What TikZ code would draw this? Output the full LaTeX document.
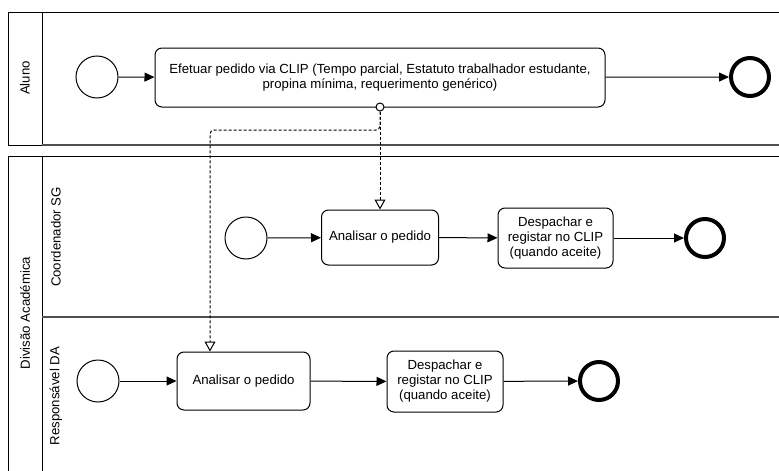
\documentclass[tikz,border=0pt]{standalone}
\usepackage{fontspec}
\setmainfont{Liberation Sans}
\usetikzlibrary{arrows.meta, positioning, calc}
\definecolor{lanegray}{RGB}{80, 80, 80}

\begin{document}
\begin{tikzpicture}[
    x=1pt, y=-1pt,
    line width=1pt,
    every node/.style={font=\fontsize{13.2}{15}\selectfont},
    startev/.style={circle, draw, line width=1pt, minimum size=42pt, inner sep=0pt},
    endev/.style={circle, draw, line width=4pt, minimum size=38pt, inner sep=0pt},
    task/.style={rectangle, rounded corners=7pt, draw, line width=1pt, align=center, inner sep=2pt},
    flow/.style={-{Triangle[length=10pt, width=9pt]}},
    msg/.style={dash pattern=on 3pt off 2pt, -{Triangle[open, length=10pt, width=11pt, fill=white]}},
    lanelabel/.style={rotate=90}
]
\useasboundingbox (0,0) rectangle (779,471);

% Pools and lanes
\draw (780,12) -- (8,12) -- (8,145) -- (42,145);
\draw (42,12) -- (42,145);
\draw[lanegray, line width=2pt] (42,145) -- (780,145);
\draw (780,156) -- (8,156) -- (8,475);
\draw (42,156) -- (42,475);
\draw[lanegray, line width=2pt] (42,317) -- (780,317);

\node[lanelabel] (aluno) at (25,78) {Aluno};
\node[lanelabel] (divisao) at (25,313) {Divisão Académica};
\node[lanelabel] (coord) at (56,237) {Coordenador SG};
\node[lanelabel] (resp) at (56,396) {Responsável DA};

% Aluno
\node[startev] (startA) at (97,77) {};
\node[task, minimum width=450pt, minimum height=59pt] (pedido) at (380,77.5)
    {Efetuar pedido via CLIP (Tempo parcial, Estatuto trabalhador estudante,\\
     propina mínima, requerimento genérico)};
\node[endev] (endA) at (750,77) {};

% Coordenador SG
\node[startev] (startSG) at (246,238) {};
\node[task, minimum width=117pt, minimum height=55pt] (analisarSG) at (380,237.5) {Analisar o pedido};
\node[task, minimum width=115pt, minimum height=60pt] (despSG) at (555.5,238)
    {Despachar e\\registar no CLIP\\(quando aceite)};
\node[endev] (endSG) at (705,238) {};

% Responsavel DA
\node[startev] (startDA) at (98,381) {};
\node[task, minimum width=133pt, minimum height=58pt] (analisarDA) at (243.5,381) {Analisar o pedido};
\node[task, minimum width=116pt, minimum height=61pt] (despDA) at (445,381.5)
    {Despachar e\\registar no CLIP\\(quando aceite)};
\node[endev] (endDA) at (599,381) {};

% Sequence flows
\draw[flow] (startA) -- (pedido);
\draw[flow] (pedido) -- (endA);
\draw[flow] (startSG) -- (analisarSG);
\draw[flow] (analisarSG) -- (despSG);
\draw[flow] (despSG) -- (endSG);
\draw[flow] (startDA) -- (analisarDA);
\draw[flow] (analisarDA) -- (despDA);
\draw[flow] (despDA) -- (endDA);

% Message flows
\node[circle, draw, fill=white, inner sep=0pt, minimum size=8pt] (src) at (380,107) {};
\coordinate (bend) at (210,130);
\draw[msg] (src) -- (analisarSG);
\draw[msg, rounded corners=4pt] (src.south) |- (bend) -- (bend |- analisarDA.north);

\end{tikzpicture}
\end{document}
